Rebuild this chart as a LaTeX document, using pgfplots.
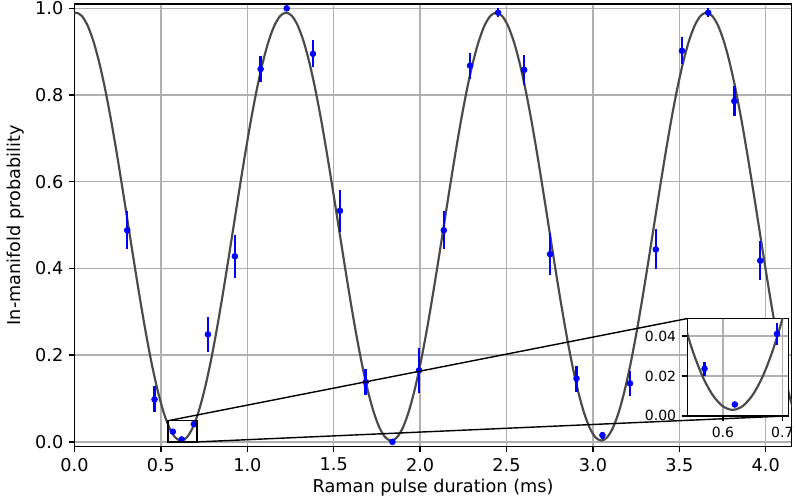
\documentclass[border=0pt]{standalone}
\usepackage{pgfplots}
\usepackage{pgfplotstable}
\pgfplotsset{compat=1.18}
\usepackage{fontspec}
\setmainfont{DejaVu Sans}

\definecolor{gridgray}{HTML}{B0B0B0}
\definecolor{fitgray}{HTML}{4A4A4A}

% measured populations: pulse duration (ms), probability, 1-sigma error
\pgfplotstableread{
x      y       e
0.305  0.488   0.044
0.463  0.098   0.030
0.569  0.0236  0.0035
0.620  0.0057  0.0
0.691  0.041   0.0057
0.772  0.248   0.041
0.928  0.428   0.050
1.077  0.860   0.030
1.228  1.000   0.0
1.380  0.895   0.031
1.536  0.533   0.048
1.685  0.138   0.030
1.840  0.000   0.0
1.994  0.165   0.052
2.137  0.488   0.044
2.289  0.868   0.030
2.451  0.990   0.010
2.602  0.858   0.034
2.752  0.433   0.048
2.905  0.146   0.030
3.055  0.0155  0.008
3.214  0.135   0.028
3.364  0.444   0.046
3.515  0.902   0.031
3.667  0.990   0.010
3.818  0.786   0.035
3.968  0.418   0.045
}\datapts

% fitted Rabi oscillation
\pgfplotstableread{
x       y
-0.0255 0.9825
0.0083  0.9900
0.0421  0.9825
0.0759  0.9602
0.1096  0.9239
0.1434  0.8745
0.1772  0.8137
0.2110  0.7433
0.2447  0.6653
0.2785  0.5822
0.3123  0.4965
0.3461  0.4108
0.3799  0.3277
0.4136  0.2498
0.4474  0.1793
0.4812  0.1185
0.5150  0.0691
0.5487  0.0328
0.5825  0.0105
0.6163  0.0030
0.6501  0.0105
0.6839  0.0328
0.7176  0.0691
0.7514  0.1185
0.7852  0.1793
0.8190  0.2498
0.8527  0.3277
0.8865  0.4108
0.9203  0.4965
0.9541  0.5822
0.9879  0.6653
1.0216  0.7433
1.0554  0.8137
1.0892  0.8745
1.1230  0.9239
1.1567  0.9602
1.1905  0.9825
1.2243  0.9900
1.2581  0.9825
1.2919  0.9602
1.3256  0.9239
1.3594  0.8745
1.3932  0.8137
1.4270  0.7433
1.4607  0.6653
1.4945  0.5822
1.5283  0.4965
1.5621  0.4108
1.5959  0.3277
1.6296  0.2498
1.6634  0.1793
1.6972  0.1185
1.7310  0.0691
1.7647  0.0328
1.7985  0.0105
1.8323  0.0030
1.8661  0.0105
1.8999  0.0328
1.9336  0.0691
1.9674  0.1185
2.0012  0.1793
2.0350  0.2498
2.0687  0.3277
2.1025  0.4108
2.1363  0.4965
2.1701  0.5822
2.2039  0.6653
2.2376  0.7433
2.2714  0.8137
2.3052  0.8745
2.3390  0.9239
2.3727  0.9602
2.4065  0.9825
2.4403  0.9900
2.4741  0.9825
2.5079  0.9602
2.5416  0.9239
2.5754  0.8745
2.6092  0.8137
2.6430  0.7433
2.6767  0.6653
2.7105  0.5822
2.7443  0.4965
2.7781  0.4108
2.8119  0.3277
2.8456  0.2498
2.8794  0.1793
2.9132  0.1185
2.9470  0.0691
2.9807  0.0328
3.0145  0.0105
3.0483  0.0030
3.0821  0.0105
3.1159  0.0328
3.1496  0.0691
3.1834  0.1185
3.2172  0.1793
3.2510  0.2498
3.2847  0.3277
3.3185  0.4108
3.3523  0.4965
3.3861  0.5822
3.4199  0.6653
3.4536  0.7433
3.4874  0.8137
3.5212  0.8745
3.5550  0.9239
3.5887  0.9602
3.6225  0.9825
3.6563  0.9900
3.6901  0.9825
3.7239  0.9602
3.7576  0.9239
3.7914  0.8745
3.8252  0.8137
3.8590  0.7433
3.8927  0.6653
3.9265  0.5822
3.9603  0.4965
3.9941  0.4108
4.0279  0.3277
4.0616  0.2498
4.0954  0.1793
4.1292  0.1185
4.1630  0.0691
}\fitcurve

% same fit, finer sampling around the first minimum
\pgfplotstableread{
x       y
0.5319  0.0492
0.5487  0.0328
0.5656  0.0198
0.5825  0.0105
0.5994  0.0049
0.6163  0.0030
0.6332  0.0049
0.6501  0.0105
0.6670  0.0198
0.6839  0.0328
0.7007  0.0492
0.7176  0.0691
}\fitzoom

\pgfplotsset{
  mplstyle/.style={
    scale only axis,
    axis line style={black, line width=0.85pt},
    grid=major,
    major grid style={gridgray, line width=0.85pt},
    tick align=outside,
    xtick pos=lower, ytick pos=left,
    major tick style={black, line width=0.85pt},
    major tick length=3.2pt,
    scaled x ticks=false, scaled y ticks=false,
    /pgf/number format/assume math mode=true,
    clip marker paths=true,
  },
  datastyle/.style={
    blue, only marks, mark=*, mark size=1.75pt,
    error bars/y dir=both, error bars/y explicit,
    error bars/error mark=none,
    error bars/error bar style={blue, line width=1.5pt},
  },
}

\begin{document}
\begin{tikzpicture}
\begin{axis}[
  mplstyle, name=main,
  width=430.3pt, height=265.6pt,
  xmin=0, xmax=4.15, ymin=-0.011, ymax=1.01,
  xtick={0,0.5,1,1.5,2,2.5,3,3.5,4},
  ytick={0,0.2,0.4,0.6,0.8,1},
  xticklabel style={font=\fontsize{10.6}{12}\selectfont,
    /pgf/number format/fixed, /pgf/number format/fixed zerofill,
    /pgf/number format/precision=1},
  yticklabel style={font=\fontsize{10.6}{12}\selectfont,
    /pgf/number format/fixed, /pgf/number format/fixed zerofill,
    /pgf/number format/precision=1},
  xlabel={Raman pulse duration (ms)},
  ylabel={In-manifold probability},
  xlabel style={font=\fontsize{10.6}{12}\selectfont,
    at={(axis description cs:0.5,-0.0933)}, anchor=center},
  ylabel style={font=\fontsize{10.6}{12}\selectfont,
    at={(axis description cs:-0.0816,0.5)}, anchor=center},
]
  \addplot[fitgray, line width=1.3pt, smooth] table[x=x, y=y] {\fitcurve};
  \addplot[datastyle] table[x=x, y=y, y error=e] {\datapts};

  % zoom region and its anchors
  \draw[black, line width=0.85pt] (axis cs:0.54,0) rectangle (axis cs:0.71,0.0487);
  \coordinate (rTL) at (axis cs:0.54,0.0487);
  \coordinate (rBR) at (axis cs:0.71,0);
  \coordinate (insSW) at (axis cs:3.546,0.060);
\end{axis}

\begin{axis}[
  mplstyle, name=inset,
  at={(insSW)}, anchor=south west,
  width=60.6pt, height=58.4pt,
  axis background/.style={fill=white},
  xmin=0.54, xmax=0.71, ymin=0, ymax=0.0487,
  xtick={0.6,0.7}, ytick={0,0.02,0.04},
  xticklabel style={font=\fontsize{8.4}{10}\selectfont,
    /pgf/number format/fixed, /pgf/number format/fixed zerofill,
    /pgf/number format/precision=1},
  yticklabel style={font=\fontsize{8.4}{10}\selectfont,
    /pgf/number format/fixed, /pgf/number format/fixed zerofill,
    /pgf/number format/precision=2},
]
  \addplot[fitgray, line width=1.3pt, smooth] table[x=x, y=y] {\fitzoom};
  \addplot[datastyle] table[x=x, y=y, y error=e] {\datapts};
\end{axis}

\draw[black, line width=0.85pt] (rTL) -- (inset.north west);
\draw[black, line width=0.85pt] (rBR) -- (inset.south east);

\pgfresetboundingbox
\path[use as bounding box] ([xshift=-44.7pt,yshift=-33.2pt]main.south west)
  rectangle ([xshift=2.6pt,yshift=2.4pt]main.north east);
\end{tikzpicture}
\end{document}
